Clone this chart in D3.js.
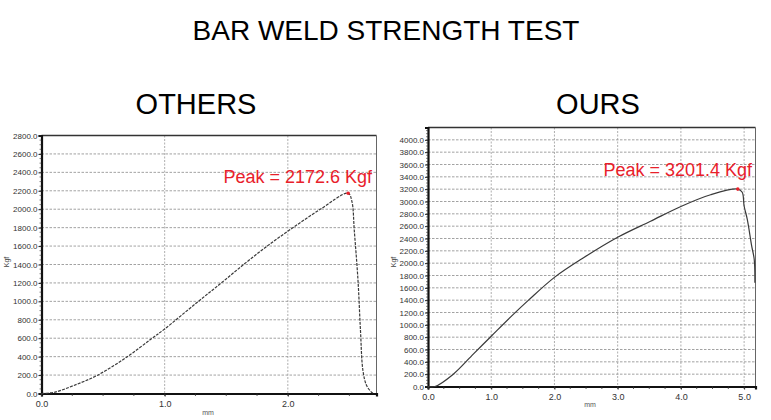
<!DOCTYPE html>
<html>
<head>
<meta charset="utf-8">
<script src="https://cdn.jsdelivr.net/npm/d3@7"></script>
<style>
  html, body { margin: 0; padding: 0; background: #fff; }
  svg { display: block; }
</style>
</head>
<body>
<svg id="chart" width="771" height="420"></svg>
<script>
// ---------- data ----------
const chartTitle = "BAR WELD STRENGTH TEST";
const panelNames = ["OTHERS", "OURS"];

// OTHERS curve: displacement (mm) vs load (Kgf)
const othersDisp = [0.00, 0.11, 0.26, 0.45, 0.69, 0.89, 1.00, 1.26, 1.46, 1.66, 1.85, 2.04, 2.26, 2.49, 2.52, 2.54, 2.57, 2.59, 2.61, 2.64, 2.68, 2.70];
const othersLoad = [0, 15, 86, 195, 393, 591, 700, 985, 1200, 1420, 1618, 1798, 1996, 2172.6, 2086, 1762, 1222, 681, 249, 86, 14, 0];

// OURS curve
const oursDisp = [0.00, 0.11, 0.40, 0.72, 1.00, 1.30, 1.59, 2.00, 2.46, 3.00, 3.52, 4.00, 4.47, 4.90, 4.97, 5.00, 5.05, 5.12, 5.16, 5.17];
const oursLoad = [0, 0, 200, 530, 815, 1120, 1400, 1770, 2088, 2420, 2680, 2920, 3110, 3201.4, 3150, 2927, 2710, 2276, 2060, 1681];

const othersPeak = 2172.6;
const oursPeak = 3201.4;

const othersYTicks = [0, 200, 400, 600, 800, 1000, 1200, 1400, 1600, 1800, 2000, 2200, 2400, 2600, 2800];
const oursYTicks = [0, 200, 400, 600, 800, 1000, 1200, 1400, 1600, 1800, 2000, 2200, 2400, 2600, 2800, 3000, 3200, 3400, 3600, 3800, 4000];
const othersXTicks = [0, 1, 2];
const oursXTicks = [0, 1, 2, 3, 4, 5];

// ---------- layout ----------
const svg = d3.select("#chart");
const fmt = d3.format(".1f");

svg.append("text")
  .attr("x", 386).attr("y", 40)
  .attr("text-anchor", "middle")
  .style("font-family", "Arial, 'Liberation Sans', sans-serif")
  .style("font-size", "28px")
  .attr("fill", "#000")
  .text(chartTitle);

const panels = [
  { name: panelNames[0], nameX: 196, disp: othersDisp, load: othersLoad, peak: othersPeak,
    xDom: [0, 2.72], xRange: [41.5, 376.5], yDom: [0, 2800], yRange: [393.5, 135.5],
    yTicks: othersYTicks, xTicks: othersXTicks, dash: "3,1.2",
    yLabel: [9, 262], xLabel: [208, 415], labelEnd: 372, labelDy: -10 },
  { name: panelNames[1], nameX: 598, disp: oursDisp, load: oursLoad, peak: oursPeak,
    xDom: [0, 5.18], xRange: [428, 755.5], yDom: [0, 4200], yRange: [386.5, 127.5],
    yTicks: oursYTicks, xTicks: oursXTicks, dash: null,
    yLabel: [396, 262], xLabel: [590, 407], labelEnd: 752, labelDy: -13 }
];

panels.forEach(p => {
  svg.append("text")
    .attr("x", p.nameX).attr("y", 114)
    .attr("text-anchor", "middle")
    .style("font-family", "Arial, 'Liberation Sans', sans-serif")
    .style("font-size", "29px")
    .attr("fill", "#000")
    .text(p.name);

  const x = d3.scaleLinear().domain(p.xDom).range(p.xRange);
  const y = d3.scaleLinear().domain(p.yDom).range(p.yRange);
  const g = svg.append("g");
  const [x0, x1] = p.xRange;
  const [yb, yt] = p.yRange;

  // horizontal dashed gridlines
  g.selectAll(".hg").data(p.yTicks.filter(d => d > 0)).join("line")
    .attr("x1", x0).attr("x2", x1)
    .attr("y1", d => y(d)).attr("y2", d => y(d))
    .attr("stroke", "#8a8a8a").attr("stroke-width", 0.8)
    .attr("stroke-dasharray", "2.5,1.5");
  // vertical gridlines
  g.selectAll(".vg").data(p.xTicks.filter(d => d > 0)).join("line")
    .attr("x1", d => x(d)).attr("x2", d => x(d))
    .attr("y1", yt).attr("y2", yb)
    .attr("stroke", "#9a9a9a").attr("stroke-width", 0.8)
    .attr("stroke-dasharray", "2,1.5");

  // frame: top and right lighter, left and bottom heavy
  g.append("line").attr("x1", x0).attr("x2", x1).attr("y1", yt).attr("y2", yt)
    .attr("stroke", "#333").attr("stroke-width", 1.6);
  g.append("line").attr("x1", x1).attr("x2", x1).attr("y1", yt).attr("y2", yb)
    .attr("stroke", "#666").attr("stroke-width", 1);

  // axes
  const yAxis = d3.axisLeft(y).tickValues(p.yTicks).tickFormat(fmt).tickSize(3).tickPadding(1);
  const yg = g.append("g").attr("transform", `translate(${x0},0)`).call(yAxis);
  const xAxis = d3.axisBottom(x).tickValues(p.xTicks).tickFormat(fmt).tickSize(3).tickPadding(4);
  const xg = g.append("g").attr("transform", `translate(0,${yb})`).call(xAxis);
  // minor x ticks
  const minorX = d3.range(p.xDom[0], p.xDom[1], 0.25);
  g.selectAll(".mx").data(minorX).join("line")
    .attr("x1", d => x(d)).attr("x2", d => x(d))
    .attr("y1", yb).attr("y2", yb + 2.5)
    .attr("stroke", "#333").attr("stroke-width", 0.8);
  // minor y ticks
  const minorY = d3.range(p.yDom[0], p.yDom[1], 50);
  g.selectAll(".my").data(minorY).join("line")
    .attr("x1", x0).attr("x2", x0 - 2)
    .attr("y1", d => y(d)).attr("y2", d => y(d))
    .attr("stroke", "#333").attr("stroke-width", 0.6);

  [yg, xg].forEach(a => {
    a.select(".domain").attr("stroke", "#111").attr("stroke-width", 2.2);
    a.selectAll(".tick line").attr("stroke", "#222");
    a.selectAll("text")
      .style("font-family", "'Liberation Sans Narrow', 'Liberation Sans', Arial, sans-serif")
      .style("font-size", "8px")
      .attr("fill", "#333");
  });
  xg.selectAll("text").style("font-size", "9px");

  // axis titles
  svg.append("text")
    .attr("transform", `translate(${p.yLabel[0]},${p.yLabel[1]}) rotate(-90)`)
    .attr("text-anchor", "middle")
    .style("font-family", "'Liberation Sans Narrow', Arial, sans-serif")
    .style("font-size", "7px").attr("fill", "#444")
    .text("Kgf");
  svg.append("text")
    .attr("x", p.xLabel[0]).attr("y", p.xLabel[1])
    .attr("text-anchor", "middle")
    .style("font-family", "'Liberation Sans Narrow', Arial, sans-serif")
    .style("font-size", "7px").attr("fill", "#555")
    .text("mm");

  // curve
  const pts = p.disp.map((d, i) => [d, p.load[i]]);
  const line = d3.line().x(d => x(d[0])).y(d => y(d[1])).curve(d3.curveCatmullRom.alpha(0.5));
  const path = g.append("path")
    .datum(pts)
    .attr("d", line)
    .attr("fill", "none")
    .attr("stroke", "#3a3a3a")
    .attr("stroke-width", 1.2);
  if (p.dash) path.attr("stroke-dasharray", p.dash);

  // peak marker and label
  const pi = p.load.indexOf(p.peak);
  const px = x(p.disp[pi]), py = y(p.peak);
  g.append("circle").attr("cx", px).attr("cy", py).attr("r", 1.8).attr("fill", "#e8202a");
  g.append("text")
    .attr("x", p.labelEnd).attr("y", py + p.labelDy)
    .attr("text-anchor", "end")
    .style("font-family", "Arial, 'Liberation Sans', sans-serif")
    .style("font-size", "18px")
    .attr("fill", "#e8202a")
    .text(`Peak = ${p.peak} Kgf`);
});
</script>
</body>
</html>
